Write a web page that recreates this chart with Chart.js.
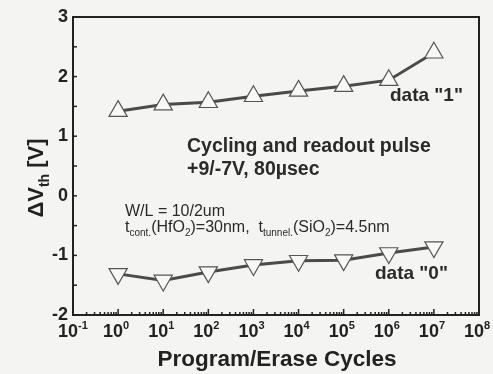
<!DOCTYPE html>
<html>
<head>
<meta charset="utf-8">
<script src="https://cdn.jsdelivr.net/npm/chart.js@4"></script>
<style>
  html, body { margin: 0; background: #f4f4f2; }
  #wrap { width: 493px; height: 374px; }
</style>
</head>
<body>
<div id="wrap"><canvas id="chart"></canvas></div>
<script>
// P/E cycles and threshold shift
var cycles = [1, 10, 100, 1e3, 1e4, 1e5, 1e6, 1e7];
var data1 = [1.42, 1.53, 1.57, 1.67, 1.76, 1.84, 1.94, 2.40];
var data0 = [-1.31, -1.42, -1.28, -1.16, -1.09, -1.08, -0.96, -0.86];
var xExponents = [-1, 0, 1, 2, 3, 4, 5, 6, 7, 8];
var yTickValues = [-2, -1, 0, 1, 2, 3];

var ink = '#222';
var FONT = 'Liberation Sans, Arial, sans-serif';

function pts(ys) {
  return cycles.map(function (c, i) { return { x: c, y: ys[i] }; });
}

// draws text pieces with sub/superscripts, starting at x
function richText(ctx, parts, x, y, size, weight) {
  parts.forEach(function (p) {
    var s = p.sub || p.sup ? Math.round(size * 0.62) : size;
    var dy = p.sub ? size * 0.28 : (p.sup ? -size * 0.45 : 0);
    ctx.font = weight + ' ' + s + 'px ' + FONT;
    ctx.fillText(p.t, x, y + dy);
    x += ctx.measureText(p.t).width;
  });
  return x;
}

var decorations = {
  id: 'decorations',
  afterDraw: function (chart) {
    var ctx = chart.ctx, a = chart.chartArea;
    var xs = chart.scales.x, ys = chart.scales.y;
    ctx.save();
    ctx.strokeStyle = ink;
    ctx.fillStyle = ink;

    // frame
    ctx.lineWidth = 2;
    ctx.strokeRect(a.left, a.top, a.right - a.left, a.bottom - a.top);

    // y ticks (inside, every 0.5)
    ctx.lineWidth = 1.5;
    for (var v = -2; v <= 3; v += 0.5) {
      var py = ys.getPixelForValue(v);
      ctx.beginPath();
      ctx.moveTo(a.left, py);
      ctx.lineTo(a.left + 4, py);
      ctx.stroke();
    }

    // x ticks (inside, log minor)
    for (var e = -1; e < 8; e++) {
      for (var m = 1; m <= 9; m++) {
        var px = xs.getPixelForValue(m * Math.pow(10, e));
        ctx.beginPath();
        ctx.moveTo(px, a.bottom);
        ctx.lineTo(px, a.bottom - (m === 1 ? 6 : 3));
        ctx.stroke();
      }
    }

    // x tick labels 10^n
    ctx.textBaseline = 'alphabetic';
    ctx.textAlign = 'left';
    xExponents.forEach(function (n) {
      var px = xs.getPixelForValue(Math.pow(10, n));
      ctx.font = 'bold 18px ' + FONT;
      var w = ctx.measureText('10').width;
      richText(ctx, [{ t: '10' }, { t: String(n), sup: true }], px - w * 0.75, a.bottom + 22, 18, 'bold');
    });

    // axis titles
    ctx.textAlign = 'center';
    ctx.font = 'bold 22.5px ' + FONT;
    ctx.fillText('Program/Erase Cycles', (a.left + a.right) / 2 + 1, 366);

    ctx.save();
    ctx.translate(43, (a.top + a.bottom) / 2 + 12);
    ctx.rotate(-Math.PI / 2);
    ctx.textAlign = 'left';
    var tw = 0;
    ctx.font = 'bold 22px ' + FONT;
    tw += ctx.measureText('ΔV').width + ctx.measureText(' [V]').width;
    ctx.font = 'bold 14px ' + FONT;
    tw += ctx.measureText('th').width;
    richText(ctx, [{ t: 'ΔV' }, { t: 'th', sub: true }, { t: ' [V]' }], -tw / 2, 0, 22, 'bold');
    ctx.restore();

    // annotations
    ctx.textAlign = 'left';
    ctx.fillStyle = '#2a2a2a';
    ctx.font = 'bold 19px ' + FONT;
    ctx.fillText('data "1"', 390, 101);
    ctx.fillText('data "0"', 375, 279);
    ctx.font = 'bold 19.5px ' + FONT;
    ctx.fillText('Cycling and readout pulse', 187, 152);
    ctx.fillText('+9/-7V, 80\u00b5sec', 187, 175);
    ctx.font = '16px ' + FONT;
    ctx.fillText('W/L = 10/2um', 125, 216);
    richText(ctx, [
      { t: 't' }, { t: 'cont.', sub: true }, { t: '(HfO' }, { t: '2', sub: true },
      { t: ')=30nm,  t' }, { t: 'tunnel.', sub: true }, { t: '(SiO' }, { t: '2', sub: true },
      { t: ')=4.5nm' }
    ], 125, 232, 16, 'normal');

    ctx.restore();
  }
};

var lineStyle = {
  borderColor: '#4a4a4a',
  borderWidth: 3,
  pointBackgroundColor: '#f8f8f6',
  pointBorderColor: '#555',
  pointBorderWidth: 1.2,
  pointRadius: 10.5,
  pointStyle: 'triangle',
  tension: 0
};

new Chart(document.getElementById('chart'), {
  type: 'line',
  data: {
    datasets: [
      Object.assign({ label: 'data "1"', data: pts(data1), pointRotation: 0 }, lineStyle),
      Object.assign({ label: 'data "0"', data: pts(data0), pointRotation: 180 }, lineStyle)
    ]
  },
  options: {
    responsive: true,
    maintainAspectRatio: false,
    animation: false,
    layout: { padding: { left: 0, right: 14, top: 17, bottom: 0 } },
    plugins: { legend: { display: false }, tooltip: { enabled: false } },
    scales: {
      x: {
        type: 'logarithmic',
        min: 0.1,
        max: 1e8,
        grid: { display: false },
        border: { display: false },
        ticks: { display: false },
        afterFit: function (s) { s.height = 59; }
      },
      y: {
        min: -2,
        max: 3,
        afterBuildTicks: function (s) {
          s.ticks = yTickValues.map(function (v) { return { value: v }; });
        },
        grid: { display: false, drawTicks: false },
        border: { display: false },
        ticks: {
          padding: 5,
          color: ink,
          font: { family: FONT, size: 18, weight: 'bold' }
        },
        afterFit: function (s) { s.width = 73; }
      }
    }
  },
  plugins: [decorations]
});
</script>
</body>
</html>
